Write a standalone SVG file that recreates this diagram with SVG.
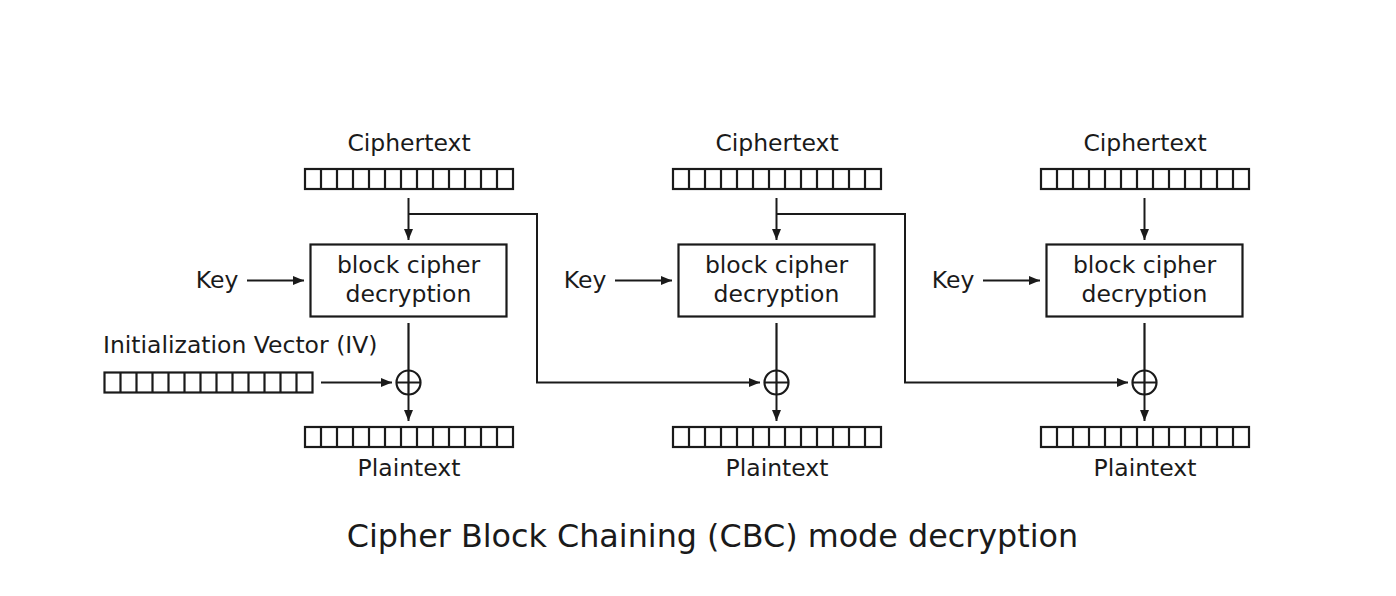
<svg xmlns="http://www.w3.org/2000/svg" xmlns:xlink="http://www.w3.org/1999/xlink" width="1396" height="596" viewBox="0 0 1396 596">
<style>
text{font-family:"DejaVu Sans","Liberation Sans",sans-serif;fill:#1a1a1a;}
.lbl{font-size:23.5px;text-anchor:middle;}
.title{font-size:31.8px;text-anchor:middle;}
.ln{fill:none;stroke:#1a1a1a;stroke-width:2.2;}
.arr{fill:none;stroke:#1a1a1a;stroke-width:2;marker-end:url(#ah);}
.box{fill:#fff;stroke:#1a1a1a;stroke-width:2.2;}
</style>
<defs>
<marker id="ah" markerUnits="userSpaceOnUse" markerWidth="12" markerHeight="10" refX="11" refY="5" orient="auto">
<path d="M0,0.5 L11,5 L0,9.5 z" fill="#1a1a1a"/>
</marker>
<g id="bar">
<rect x="0" y="0" width="208" height="20" class="box"/>
<path class="ln" d="M16,0V20M32,0V20M48,0V20M64,0V20M80,0V20M96,0V20M112,0V20M128,0V20M144,0V20M160,0V20M176,0V20M192,0V20"/>
</g>
<g id="xor">
<circle cx="0" cy="0" r="12" class="box"/>
<path class="ln" d="M-12,0H12M0,-12V12"/>
</g>
</defs>
<rect width="1396" height="596" fill="#fff"/>

<g id="connectors">
<path class="arr" d="M408.5,198V240"/>
<path class="arr" d="M247,280.5H304"/>
<path class="ln" d="M408.5,323V370.5"/>
<path class="arr" d="M408.5,394.5V421"/>
<path class="arr" d="M321,382.5H392"/>
<path class="arr" d="M408.5,214H537V382.5H760"/>

<path class="arr" d="M776.5,198V240"/>
<path class="arr" d="M615,280.5H672"/>
<path class="ln" d="M776.5,323V370.5"/>
<path class="arr" d="M776.5,394.5V421"/>
<path class="arr" d="M776.5,214H905V382.5H1128"/>

<path class="arr" d="M1144.5,198V240"/>
<path class="arr" d="M983,280.5H1040"/>
<path class="ln" d="M1144.5,323V370.5"/>
<path class="arr" d="M1144.5,394.5V421"/>
</g>

<g id="col1">
<text class="lbl" x="409" y="151">Ciphertext</text>
<use xlink:href="#bar" x="305" y="169"/>
<rect class="box" x="310.5" y="244.5" width="196" height="72"/>
<text class="lbl" x="408.5" y="273">block cipher</text>
<text class="lbl" x="408.5" y="302">decryption</text>
<text class="lbl" x="217" y="288">Key</text>
<use xlink:href="#xor" x="408.5" y="382.5"/>
<use xlink:href="#bar" x="305" y="427"/>
<text class="lbl" x="409" y="476">Plaintext</text>
</g>

<g id="iv">
<text x="103" y="353" style="font-size:23.5px">Initialization Vector (IV)</text>
<use xlink:href="#bar" x="104.5" y="372.5"/>
</g>

<g id="col2">
<text class="lbl" x="777" y="151">Ciphertext</text>
<use xlink:href="#bar" x="673" y="169"/>
<rect class="box" x="678.5" y="244.5" width="196" height="72"/>
<text class="lbl" x="776.5" y="273">block cipher</text>
<text class="lbl" x="776.5" y="302">decryption</text>
<text class="lbl" x="585" y="288">Key</text>
<use xlink:href="#xor" x="776.5" y="382.5"/>
<use xlink:href="#bar" x="673" y="427"/>
<text class="lbl" x="777" y="476">Plaintext</text>
</g>

<g id="col3">
<text class="lbl" x="1145" y="151">Ciphertext</text>
<use xlink:href="#bar" x="1041" y="169"/>
<rect class="box" x="1046.5" y="244.5" width="196" height="72"/>
<text class="lbl" x="1144.5" y="273">block cipher</text>
<text class="lbl" x="1144.5" y="302">decryption</text>
<text class="lbl" x="953" y="288">Key</text>
<use xlink:href="#xor" x="1144.5" y="382.5"/>
<use xlink:href="#bar" x="1041" y="427"/>
<text class="lbl" x="1145" y="476">Plaintext</text>
</g>

<g id="title">
<text class="title" x="712.5" y="547">Cipher Block Chaining (CBC) mode decryption</text>
</g>
</svg>
